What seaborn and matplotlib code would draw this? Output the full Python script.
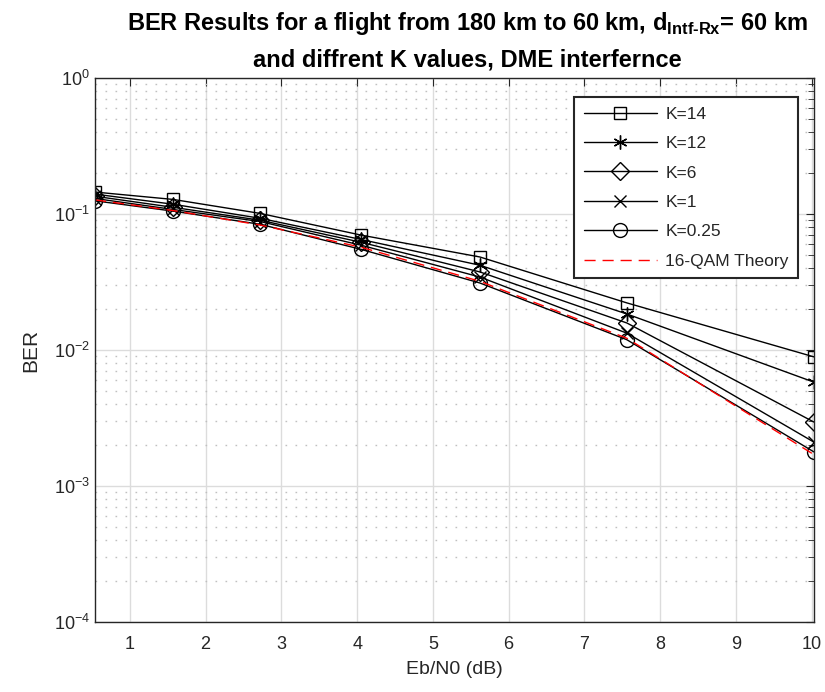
import numpy as np
import pandas as pd
import matplotlib
matplotlib.use("Agg")
import matplotlib.pyplot as plt
import matplotlib.ticker as mticker
import seaborn as sns

ebn0 = [0.54, 1.57, 2.72, 4.05, 5.62, 7.56, 10.03]
ber_k14 = [0.145, 0.128, 0.101, 0.070, 0.0483, 0.0222, 0.0089]
ber_k12 = [0.140, 0.118, 0.093, 0.065, 0.0420, 0.0184, 0.0058]
ber_k6 = [0.135, 0.112, 0.090, 0.062, 0.0375, 0.0158, 0.00295]
ber_k1 = [0.130, 0.108, 0.088, 0.059, 0.0344, 0.0133, 0.0021]
ber_k025 = [0.125, 0.105, 0.084, 0.055, 0.0311, 0.0119, 0.00178]
ber_theory = [0.127, 0.106, 0.083, 0.057, 0.0320, 0.0122, 0.00170]

labels = ["K=14", "K=12", "K=6", "K=1", "K=0.25"]
series = [ber_k14, ber_k12, ber_k6, ber_k1, ber_k025]
markers = ["s", (6, 2, 0), "D", "x", "o"]
msizes = [8, 10, 9, 8, 10]

sns.set_style("white")
plt.rcParams["font.family"] = ["Liberation Sans", "DejaVu Sans"]
plt.rcParams["mathtext.fontset"] = "custom"
plt.rcParams["mathtext.rm"] = "Liberation Sans"
plt.rcParams["mathtext.bf"] = "Liberation Sans:bold"

fig = plt.figure(figsize=(8.25, 6.92), dpi=100)
ax = fig.add_axes([95 / 825, 1 - 622 / 692, (814 - 95) / 825, (622 - 78) / 692])

for lab, vals, mk, ms in zip(labels, series, markers, msizes):
    df = pd.DataFrame({"x": ebn0, "y": vals})
    sns.lineplot(data=df, x="x", y="y", ax=ax, color="black", linewidth=1.0,
                 marker=mk, markersize=ms, markerfacecolor="none",
                 markeredgecolor="black", markeredgewidth=1.0, label=lab)

dft = pd.DataFrame({"x": ebn0, "y": ber_theory})
sns.lineplot(data=dft, x="x", y="y", ax=ax, color="red", linewidth=1.0,
             dashes=False, linestyle=(0, (8, 5)), label="16-QAM Theory")

ax.set_yscale("log")
ax.set_ylim(1e-4, 1)
ax.set_xlim(ebn0[0], ebn0[-1])
ax.set_xticks(range(1, 11))
ax.yaxis.set_major_locator(mticker.LogLocator(base=10, numticks=10))
ax.yaxis.set_minor_locator(mticker.LogLocator(base=10, subs=np.arange(2, 10), numticks=10))
ax.yaxis.set_minor_formatter(mticker.NullFormatter())

ax.grid(True, which="major", color="#dcdcdc", linewidth=1.0, linestyle="-")
ax.grid(True, which="minor", axis="y", color="#c0c0c0", linewidth=1.0, linestyle=(0, (1.2, 6)))
ax.set_axisbelow(True)

for sp in ax.spines.values():
    sp.set_color("#262626")
    sp.set_linewidth(1.0)
ax.tick_params(which="both", direction="in", top=True, right=True, colors="#262626",
               labelcolor="#262626", labelsize=13)
ax.tick_params(which="major", length=6)
ax.tick_params(which="minor", length=4)
ax.tick_params(axis="x", pad=10)

ax.set_xlabel("Eb/N0 (dB)", fontsize=14, color="#262626", labelpad=6)
ax.set_ylabel("BER", fontsize=15, color="#262626", labelpad=10)

fig.text(0.567, 0.966,
         "BER Results for a flight from 180 km to 60 km, d$_{\\mathbf{Intf\u2010Rx}}$= 60 km",
         ha="center", va="center", fontsize=17, fontweight="bold", color="black")
fig.text(0.567, 0.914, "and diffrent K values, DME interfernce",
         ha="center", va="center", fontsize=17, fontweight="bold", color="black")

leg = ax.legend(loc="upper right", bbox_to_anchor=(0.978, 0.965), borderaxespad=0,
                fontsize=12.5, frameon=True, fancybox=False, edgecolor="#262626",
                framealpha=1, handlelength=4.2, labelspacing=0.82, borderpad=0.55,
                handletextpad=0.5)
leg.get_frame().set_linewidth(1.5)

fig.savefig("out.png", dpi=100)
